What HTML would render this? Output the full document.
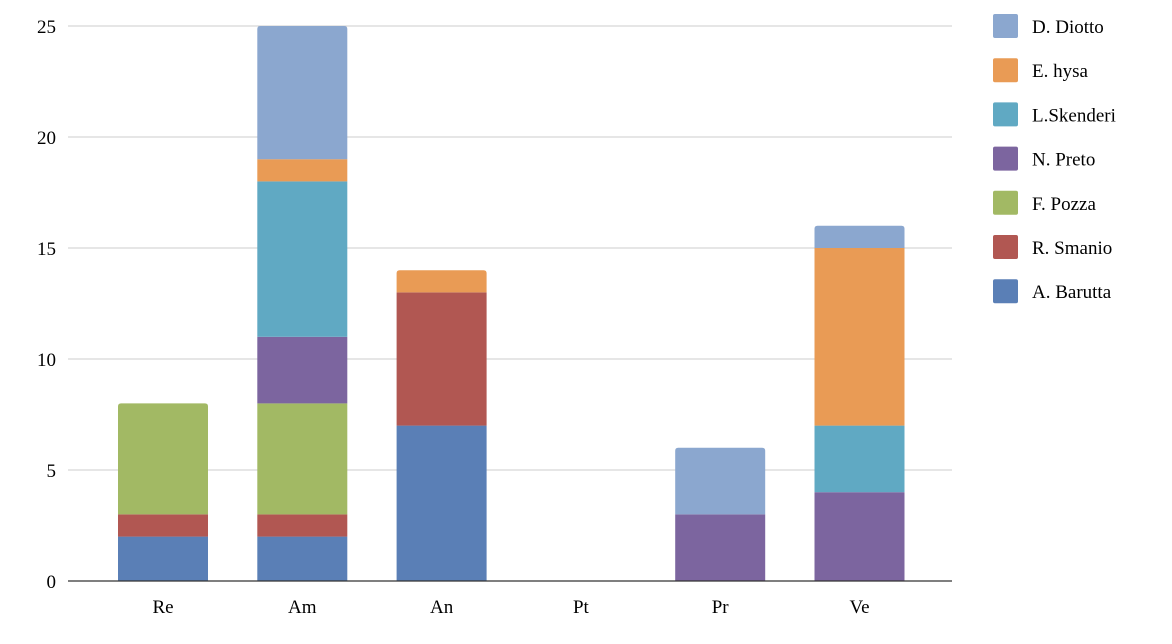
<!DOCTYPE html>
<html><head><meta charset="utf-8"><style>
body{margin:0;background:#fff;}
svg{display:block;font-family:"Liberation Serif",serif;}
</style></head><body>
<svg id="chart" width="1172" height="644"></svg>
<script>
const categories=["Re","Am","An","Pt","Pr","Ve"];
const seriesNames=["A. Barutta","R. Smanio","F. Pozza","N. Preto","L.Skenderi","E. hysa","D. Diotto"];
const seriesColors=["#5a7fb6","#b15752","#a2b964","#7c659f","#60a9c3","#e99b55","#8ba7cf"];
const barutta=[2,2,7,0,0,0];
const smanio=[1,1,6,0,0,0];
const pozza=[5,5,0,0,0,0];
const preto=[0,3,0,0,3,4];
const skenderi=[0,7,0,0,0,3];
const hysa=[0,1,1,0,0,8];
const diotto=[0,6,0,0,3,1];
const yTicks=[0,5,10,15,20,25];
const series=[barutta,smanio,pozza,preto,skenderi,hysa,diotto];
const NS="http://www.w3.org/2000/svg";
const svg=document.getElementById('chart');
const y=v=>581-v*22.2;
const x=i=>163+i*139.3;
const bw=90;
function mk(t,a,p){const e=document.createElementNS(NS,t);for(const k in a)e.setAttribute(k,a[k]);(p||svg).appendChild(e);return e;}
yTicks.forEach(t=>{
  if(t>0){const g=mk('line',{x1:68,x2:952,y1:y(t),y2:y(t),stroke:'#cccccc','stroke-width':1});
  
  }
  const l=mk('text',{x:56,y:y(t)+7,'text-anchor':'end','font-size':19,fill:'#000'});
  l.textContent=t;
  
  
});
categories.forEach((c,i)=>{
  let base=0;
  let segs=[];
  series.forEach((s,si)=>{const v=s[i];if(v>0){segs.push([base,v,si]);base+=v;}});
  segs.forEach(([b,v,si],k)=>{
    const top=k===segs.length-1;
    const x0=x(i)-bw/2,y0=y(b+v),h=v*22.2;
    let e;
    if(top){const r=3;
      e=mk('path',{d:`M${x0},${y0+h}V${y0+r}Q${x0},${y0} ${x0+r},${y0}H${x0+bw-r}Q${x0+bw},${y0} ${x0+bw},${y0+r}V${y0+h}Z`,fill:seriesColors[si]});
    }else e=mk('rect',{x:x0,y:y0,width:bw,height:h,fill:seriesColors[si]});
    
    
  });
  const t=mk('text',{x:x(i),y:613,'text-anchor':'middle','font-size':19,fill:'#000'});
  t.textContent=c;
  
  
});
const ax=mk('line',{x1:68,x2:952,y1:581,y2:581,stroke:'#333','stroke-width':1.3});


for(let k=0;k<7;k++){
  const si=6-k;const cy=26+k*44.2;
  const r=mk('rect',{x:993,y:cy-12,width:25,height:24,rx:2,fill:seriesColors[si]});
  
  
  const t=mk('text',{x:1032,y:cy+7,'font-size':19,fill:'#000'});
  t.textContent=seriesNames[si];
  
  
}
</script>
</body></html>
